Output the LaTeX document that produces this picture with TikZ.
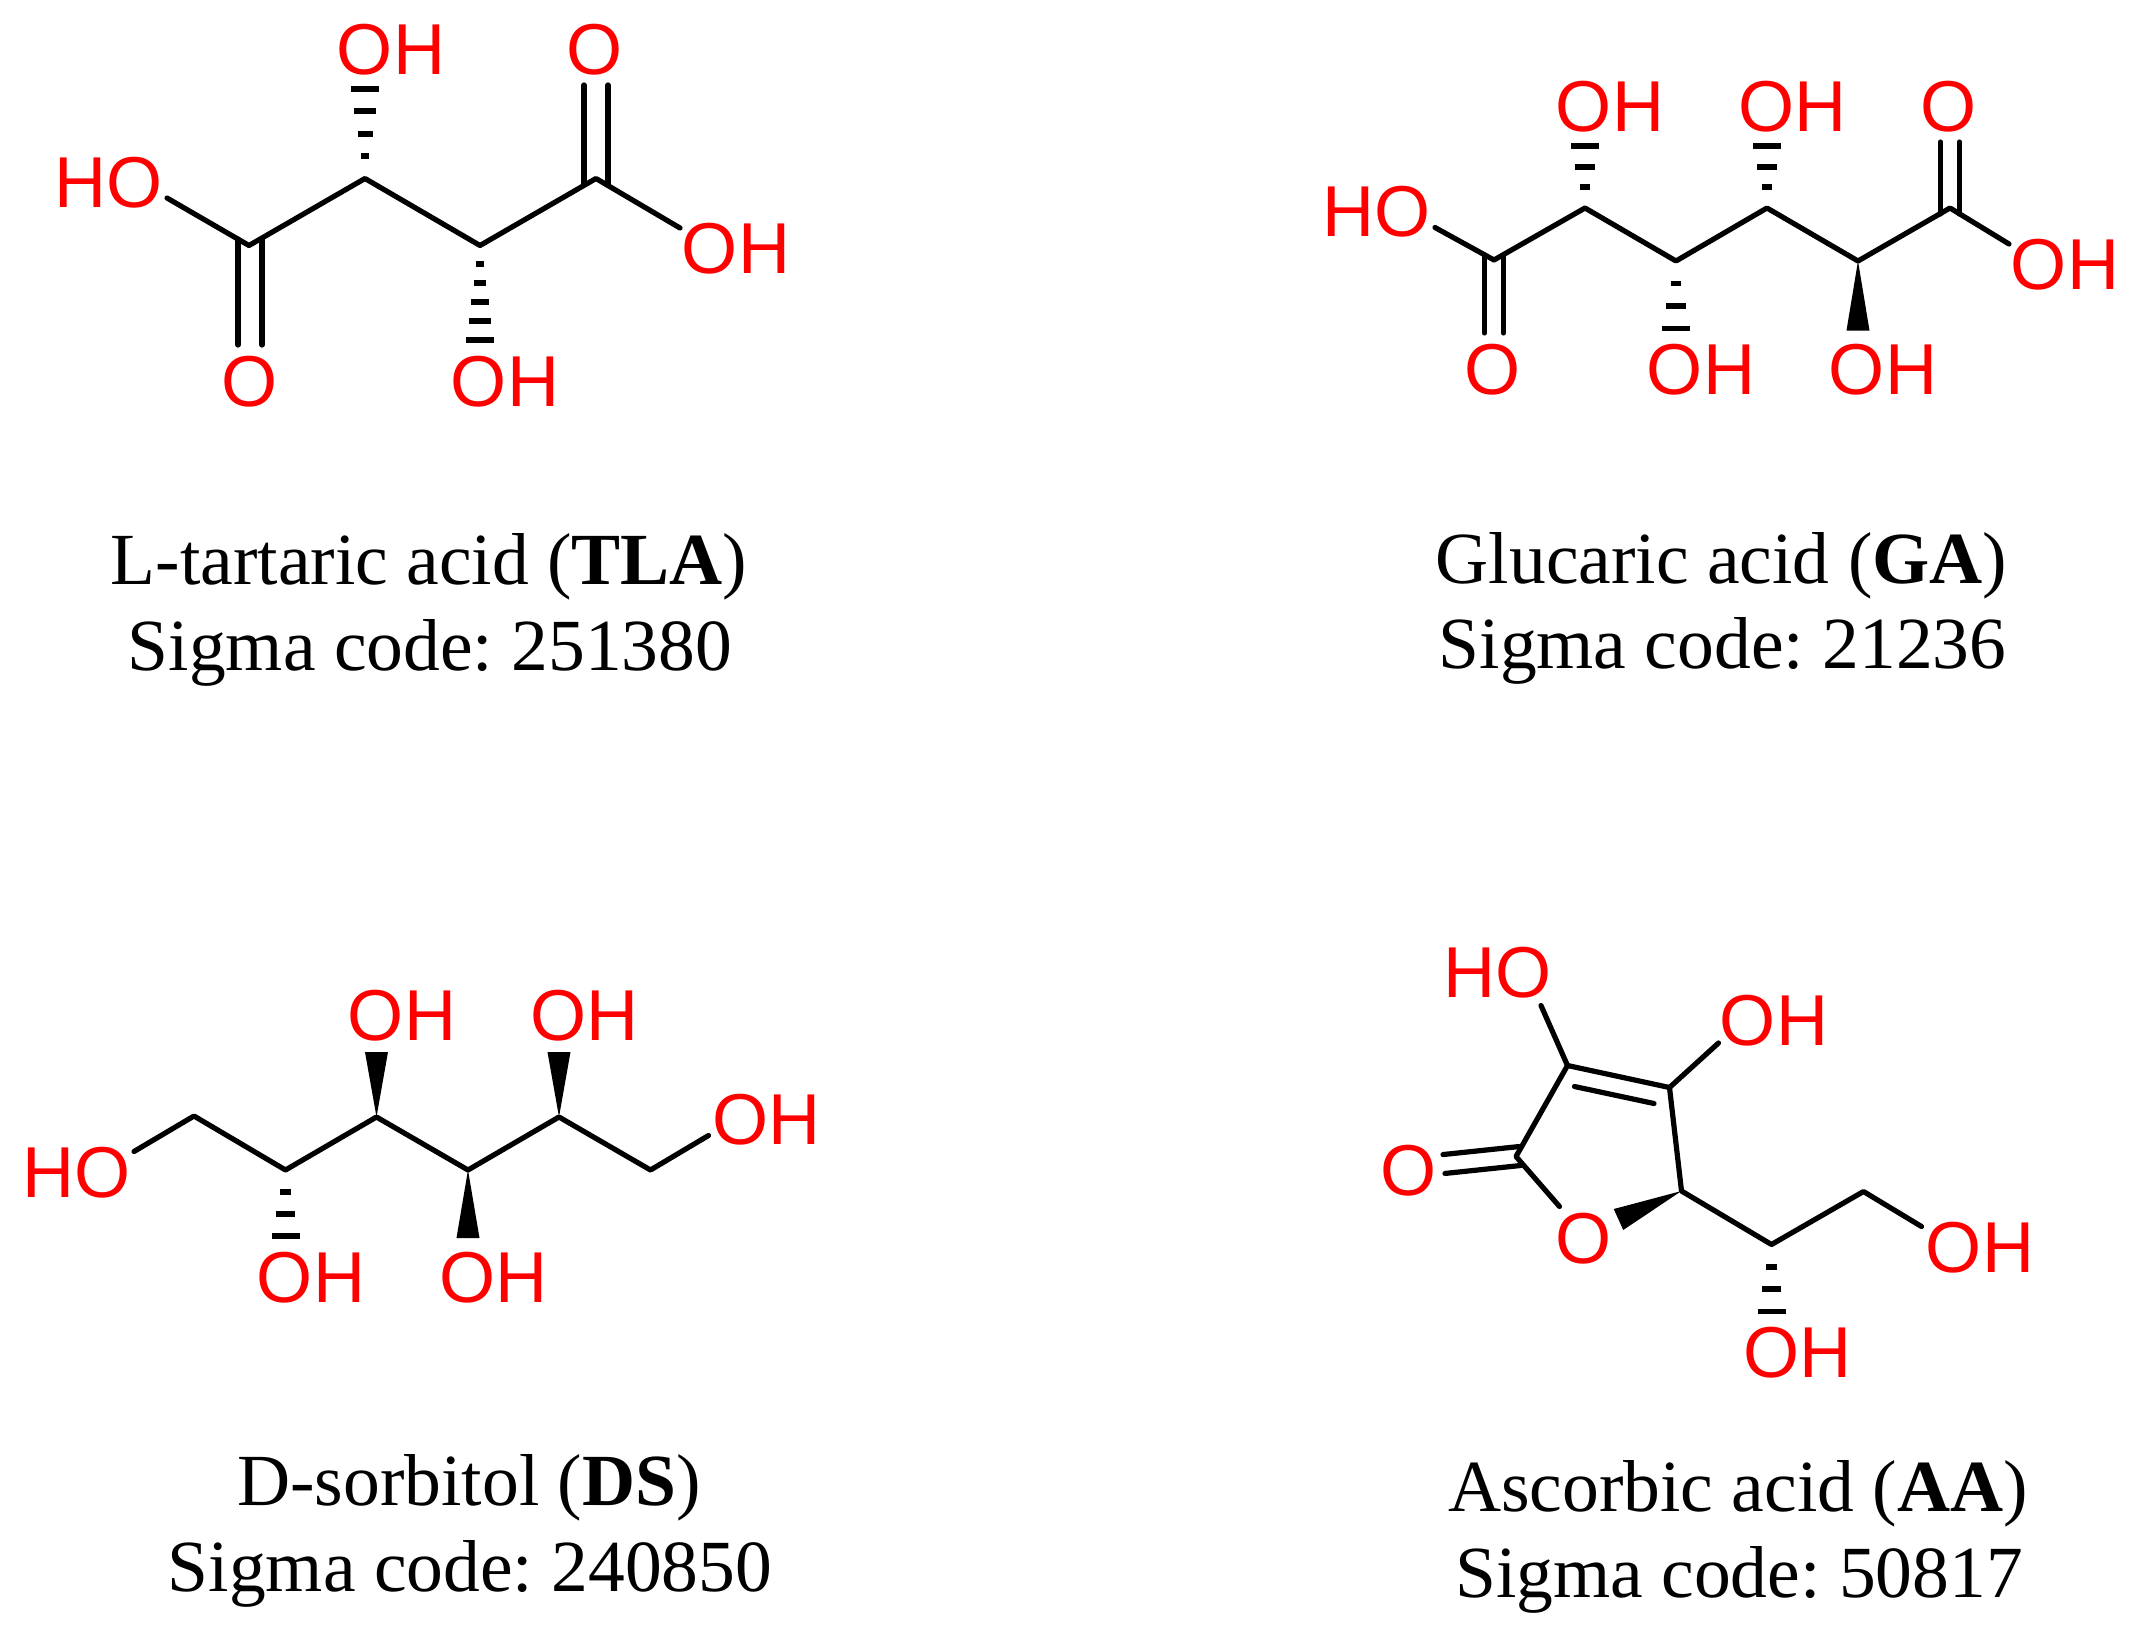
\documentclass[tikz,border=0pt]{standalone}
\usepackage{fontspec}
\setmainfont{Liberation Serif}
\newfontfamily\atomfont{Liberation Sans}
\usetikzlibrary{calc}
\definecolor{atomred}{RGB}{255,0,0}
\tikzset{
  bondline/.style={line width=0.052cm, line cap=round, line join=round},
  atomlabel/.style={anchor=base, inner sep=0pt, text=atomred, font=\atomfont\fontsize{20.5}{24}\selectfont},
  captext/.style={anchor=base, inner sep=0pt, font=\frenchspacing\fontsize{20.9}{24.5}\selectfont}
}
% #1 carbon, #2 last dash, #3 number of dashes
\newcommand{\hashBond}[3]{%
  \foreach \hashi in {1,...,#3} {
    \pgfmathsetmacro\hashfrac{\hashi/#3}
    \draw[line width=0.058cm]
      ($(#1)!\hashfrac!(#2)+(-13*\hashfrac-1,0)$) -- ($(#1)!\hashfrac!(#2)+(13*\hashfrac+1,0)$);
  }%
}
% #1 tip, #2 middle of the wide end
\newcommand{\wedgeBond}[2]{%
  \fill ($(#2)!0.115cm!90:(#1)$) -- (#1) -- ($(#2)!0.115cm!-90:(#1)$) -- cycle;%
}
% #1 start, #2 end, #3 half of the gap
\newcommand{\doubleBond}[3]{%
  \draw[bondline] ($(#1)!#3!90:(#2)$) -- ($(#2)!#3!-90:(#1)$);
  \draw[bondline] ($(#1)!#3!-90:(#2)$) -- ($(#2)!#3!90:(#1)$);%
}

\begin{document}
\begin{tikzpicture}[x=0.01cm, y=-0.01cm]
  \useasboundingbox (0, 0) rectangle (2138, 1630);

  % L-tartaric acid
  \coordinate (tlaC1) at (249, 245.5);
  \coordinate (tlaC2) at (365, 178.5);
  \coordinate (tlaC3) at (480, 245.5);
  \coordinate (tlaC4) at (596, 178.5);
  \coordinate (tlaHOend) at (167, 198);
  \coordinate (tlaOHend) at (680, 228);
  \coordinate (tlaHashA) at (365, 89);
  \coordinate (tlaHashB) at (480, 340);
  \coordinate (tlaDblAs) at (596, 185);
  \coordinate (tlaDblAe) at (596, 85);
  \coordinate (tlaDblBs) at (250, 239);
  \coordinate (tlaDblBe) at (250, 345);

  \node[atomlabel] (tlaOHtop) at (391, 74) {OH};
  \node[atomlabel] (tlaOtop) at (595, 74) {O};
  \node[atomlabel] (tlaHO) at (109, 207.5) {HO};
  \node[atomlabel] (tlaOHright) at (736, 273) {OH};
  \node[atomlabel] (tlaObot) at (249.5, 406) {O};
  \node[atomlabel] (tlaOHbot) at (505, 406) {OH};

  \draw[bondline] (tlaHOend) -- (tlaC1) -- (tlaC2) -- (tlaC3) -- (tlaC4) -- (tlaOHend);
  \doubleBond{tlaDblAs}{tlaDblAe}{0.12cm}
  \doubleBond{tlaDblBs}{tlaDblBe}{0.12cm}
  \hashBond{tlaC2}{tlaHashA}{4}
  \hashBond{tlaC3}{tlaHashB}{5}

  \node[captext] (tlaName) at (429, 584) {L-tartaric acid (\textbf{TLA})};
  \node[captext] (tlaCode) at (430, 670) {Sigma code: 251380};

  % Glucaric acid
  \coordinate (gaC1) at (1494, 260);
  \coordinate (gaC2) at (1585, 208);
  \coordinate (gaC3) at (1676, 261);
  \coordinate (gaC4) at (1767, 208);
  \coordinate (gaC5) at (1858, 261);
  \coordinate (gaC6) at (1950, 208);
  \coordinate (gaHOend) at (1435, 227.5);
  \coordinate (gaOHend) at (2009, 244);
  \coordinate (gaHashA) at (1585, 146);
  \coordinate (gaHashB) at (1676, 328.5);
  \coordinate (gaHashC) at (1767, 146);
  \coordinate (gaWedge) at (1858, 330.5);
  \coordinate (gaDblAs) at (1950, 214);
  \coordinate (gaDblAe) at (1950, 142);
  \coordinate (gaDblBs) at (1494, 255);
  \coordinate (gaDblBe) at (1494, 333);

  \node[atomlabel] (gaOHtopA) at (1610, 131.5) {OH};
  \node[atomlabel] (gaOHtopB) at (1792.5, 131.5) {OH};
  \node[atomlabel] (gaOtop) at (1949, 131.5) {O};
  \node[atomlabel] (gaHO) at (1377, 236.5) {HO};
  \node[atomlabel] (gaOHright) at (2065, 289) {OH};
  \node[atomlabel] (gaObot) at (1493, 394) {O};
  \node[atomlabel] (gaOHbotA) at (1701, 394) {OH};
  \node[atomlabel] (gaOHbotB) at (1883, 394) {OH};

  \draw[bondline] (gaHOend) -- (gaC1) -- (gaC2) -- (gaC3) -- (gaC4) -- (gaC5) -- (gaC6) -- (gaOHend);
  \doubleBond{gaDblAs}{gaDblAe}{0.095cm}
  \doubleBond{gaDblBs}{gaDblBe}{0.095cm}
  \hashBond{gaC2}{gaHashA}{3}
  \hashBond{gaC3}{gaHashB}{3}
  \hashBond{gaC4}{gaHashC}{3}
  \wedgeBond{gaC5}{gaWedge}

  \node[captext] (gaName) at (1721.5, 583) {Glucaric acid (\textbf{GA})};
  \node[captext] (gaCode) at (1722.5, 668.5) {Sigma code: 21236};

  % D-sorbitol
  \coordinate (dsC1) at (194, 1116);
  \coordinate (dsC2) at (285.5, 1170);
  \coordinate (dsC3) at (376.5, 1117);
  \coordinate (dsC4) at (468, 1170);
  \coordinate (dsC5) at (559, 1117);
  \coordinate (dsC6) at (650.5, 1170);
  \coordinate (dsHOend) at (134, 1151.5);
  \coordinate (dsOHend) at (708.5, 1135.5);
  \coordinate (dsHash) at (285.5, 1236);
  \coordinate (dsWedgeA) at (376.5, 1052);
  \coordinate (dsWedgeB) at (468, 1238);
  \coordinate (dsWedgeC) at (559, 1052);

  \node[atomlabel] (dsHO) at (77, 1197.5) {HO};
  \node[atomlabel] (dsOHtopA) at (402, 1040) {OH};
  \node[atomlabel] (dsOHtopB) at (584.5, 1040) {OH};
  \node[atomlabel] (dsOHright) at (766.5, 1144) {OH};
  \node[atomlabel] (dsOHbotA) at (311, 1302) {OH};
  \node[atomlabel] (dsOHbotB) at (493.5, 1302) {OH};

  \draw[bondline] (dsHOend) -- (dsC1) -- (dsC2) -- (dsC3) -- (dsC4) -- (dsC5) -- (dsC6) -- (dsOHend);
  \hashBond{dsC2}{dsHash}{3}
  \wedgeBond{dsC3}{dsWedgeA}
  \wedgeBond{dsC4}{dsWedgeB}
  \wedgeBond{dsC5}{dsWedgeC}

  \node[captext] (dsName) at (469, 1505) {D-sorbitol (\textbf{DS})};
  \node[captext] (dsCode) at (470, 1591) {Sigma code: 240850};

  % Ascorbic acid
  \coordinate (aaCa) at (1567.5, 1065.5);
  \coordinate (aaCb) at (1669.5, 1087.5);
  \coordinate (aaCc) at (1681.5, 1191);
  \coordinate (aaCd) at (1516, 1156.5);
  \coordinate (aaCe) at (1771.5, 1244.5);
  \coordinate (aaCf) at (1863.5, 1191.5);
  \coordinate (aaRingO) at (1559.5, 1206.5);
  \coordinate (aaHOend) at (1541, 1005.5);
  \coordinate (aaOHendA) at (1718.5, 1043);
  \coordinate (aaOHendB) at (1921.5, 1226.5);
  \coordinate (aaInnerA) at (1574.5, 1086.5);
  \coordinate (aaInnerB) at (1654, 1103.5);
  \coordinate (aaDblS) at (1520, 1156);
  \coordinate (aaDblE) at (1444, 1164);
  \coordinate (aaWedge) at (1618.5, 1219.5);
  \coordinate (aaHash) at (1771.5, 1311.5);

  \node[atomlabel] (aaHO) at (1498, 997) {HO};
  \node[atomlabel] (aaOHa) at (1774, 1045.5) {OH};
  \node[atomlabel] (aaOleft) at (1409, 1195.5) {O};
  \node[atomlabel] (aaOring) at (1584, 1263) {O};
  \node[atomlabel] (aaOHb) at (1980, 1272.5) {OH};
  \node[atomlabel] (aaOHc) at (1797.5, 1377.5) {OH};

  \draw[bondline] (aaRingO) -- (aaCd) -- (aaCa) -- (aaCb) -- (aaCc) -- (aaCe) -- (aaCf) -- (aaOHendB);
  \draw[bondline] (aaCa) -- (aaHOend);
  \draw[bondline] (aaCb) -- (aaOHendA);
  \draw[bondline] (aaInnerA) -- (aaInnerB);
  \doubleBond{aaDblS}{aaDblE}{0.095cm}
  \wedgeBond{aaCc}{aaWedge}
  \hashBond{aaCe}{aaHash}{3}

  \node[captext] (aaName) at (1738, 1511.5) {Ascorbic acid (\textbf{AA})};
  \node[captext] (aaCode) at (1739, 1597.5) {Sigma code: 50817};
\end{tikzpicture}
\end{document}
